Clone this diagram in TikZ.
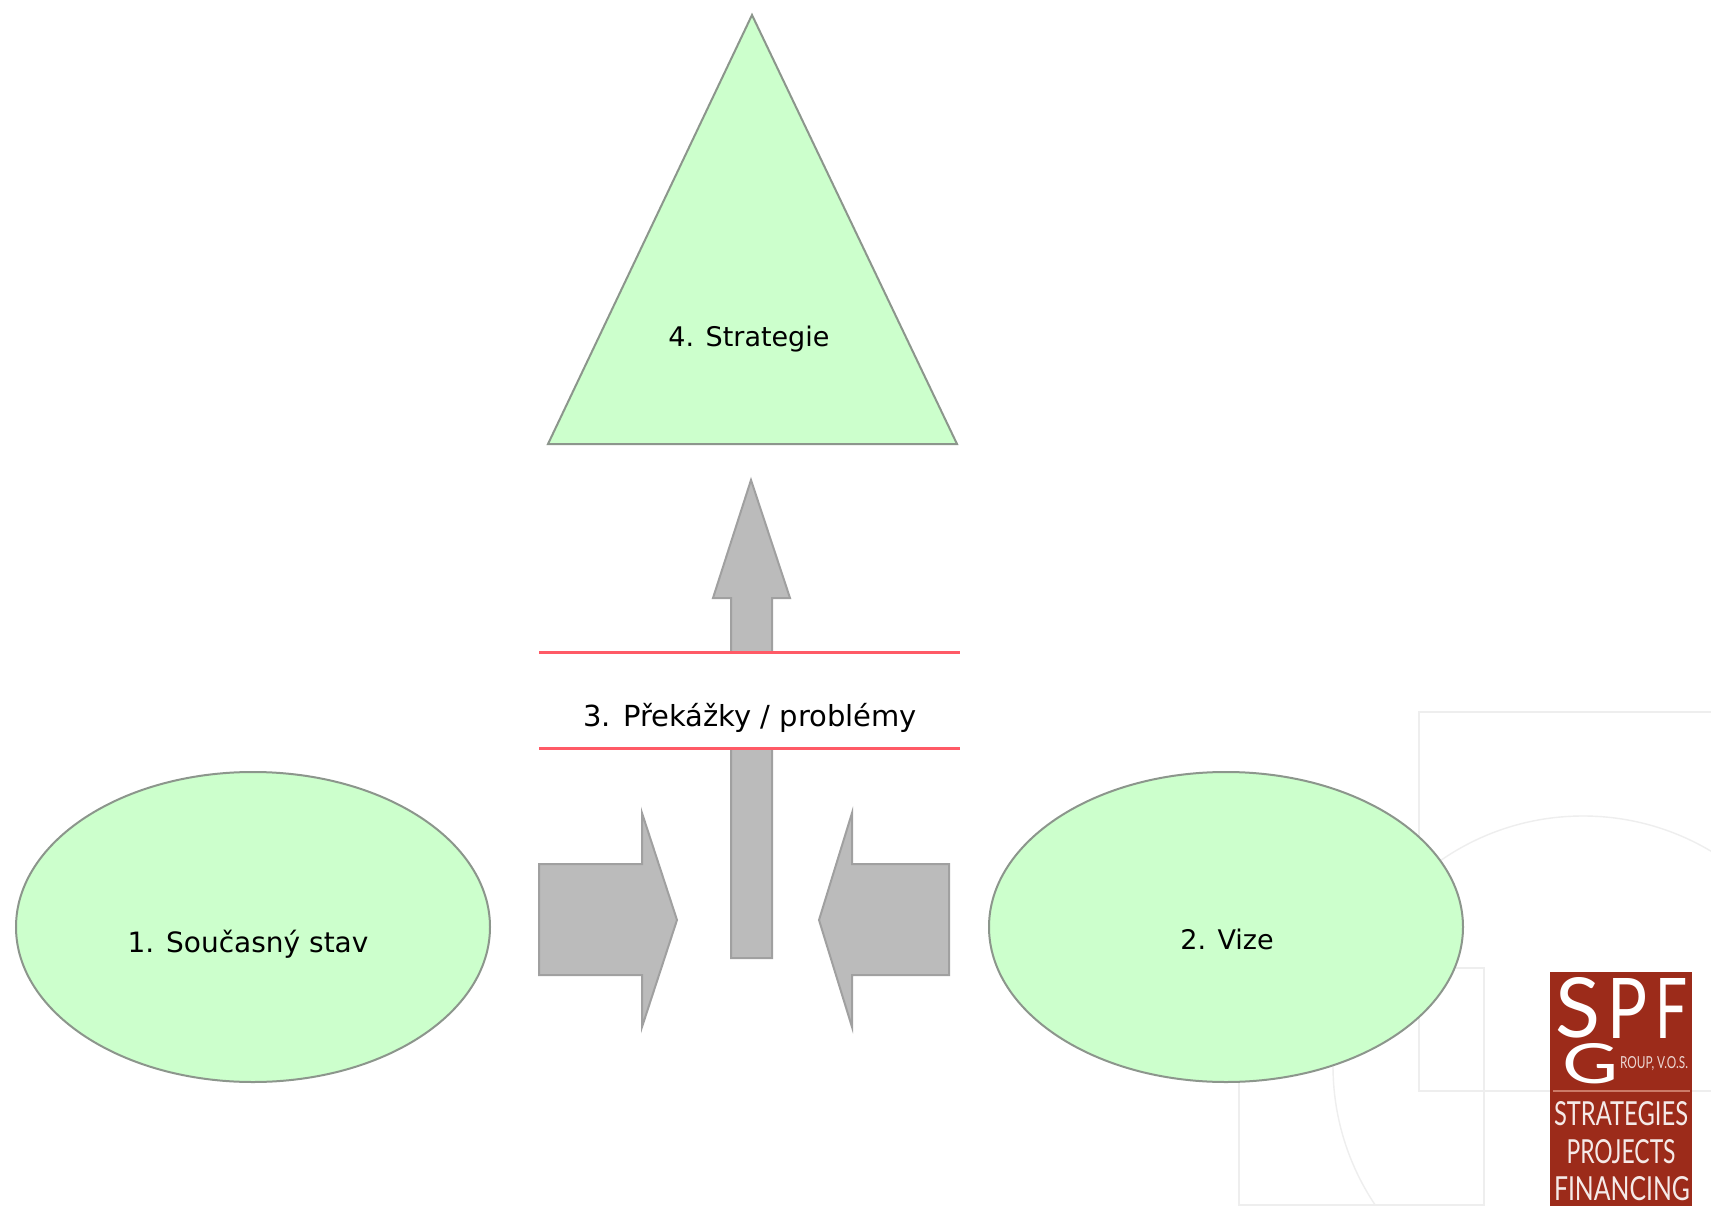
\documentclass[tikz,border=0pt]{standalone}
\usepackage{fontspec}
\usepackage{graphicx}
\setmainfont{DejaVu Sans}
\newfontfamily\logofont{Lato}
\usetikzlibrary{shapes.geometric}
\definecolor{shapegreen}{HTML}{CCFFCC}
\definecolor{shapeedge}{HTML}{8C968C}
\definecolor{arrowfill}{HTML}{BBBBBB}
\definecolor{arrowedge}{HTML}{A0A0A0}
\definecolor{obstacle}{HTML}{FF5A66}
\definecolor{watermark}{HTML}{EEEEEE}
\definecolor{logored}{HTML}{9C2B1A}
\definecolor{logoline}{HTML}{CC7A68}
\tikzset{
  x=1pt,y=-1pt,
  blob/.style={draw=shapeedge,fill=shapegreen,line width=2pt,ellipse,inner sep=0pt,minimum width=474pt,minimum height=310pt},
  peak/.style={draw=shapeedge,fill=shapegreen,line width=2pt,line join=miter},
  fatarrow/.style={draw=arrowedge,fill=arrowfill,line width=2pt,line join=miter},
  barline/.style={draw=obstacle,line width=3.6pt},
  faint/.style={draw=watermark,line width=1.4pt},
  caption/.style={font=\fontsize{27}{30}\selectfont,text=black,inner sep=0pt},
  logotext/.style={font=\logofont,text=white!90!logored,inner sep=0pt,anchor=center},
  logobig/.style={font=\logofont,text=white,inner sep=0pt,anchor=center}
}
\begin{document}
\begin{tikzpicture}
\useasboundingbox (0,0) rectangle (1711,1206);
\begin{scope}
\clip (0,0) rectangle (1711,1206);
\fill[white] (0,0) rectangle (1711,1206);
% watermark
\draw[faint] (1800,712) -- (1419,712) -- (1419,1091) -- (1800,1091);
\draw[faint] (1239,968) rectangle (1484,1205);
\draw[faint] (1583,1066) circle[radius=250];
% logo
\fill[logored] (1550,972) rectangle (1692,1206);
\node[logobig] (lS) at (1578,1008) {\resizebox{45pt}{60pt}{S}};
\node[logobig] (lP) at (1627,1008) {\resizebox{40pt}{60pt}{P}};
\node[logobig] (lF) at (1671,1008) {\resizebox{32pt}{60pt}{F}};
\node[logobig] (lG) at (1590,1064) {\resizebox{56pt}{40pt}{G}};
\node[logotext,text=white!80!logored] (lgroup) at (1654,1064) {\resizebox{68pt}{12pt}{ROUP, V.O.S.}};
\draw[logoline,line width=2pt] (1553,1091) -- (1690,1091);
\node[logotext] (l1) at (1621,1114) {\resizebox{134pt}{24pt}{STRATEGIES}};
\node[logotext] (l2) at (1621,1152) {\resizebox{109pt}{24pt}{PROJECTS}};
\node[logotext] (l3) at (1622,1189) {\resizebox{136pt}{24pt}{FINANCING}};
% shapes
\node[blob] (cur) at (253,927) {};
\node[blob] (vis) at (1226,927) {};
\draw[peak] (752,15) -- (957,444) -- (548,444) -- cycle;
\draw[fatarrow] (751,480) -- (790,598) -- (772,598) -- (772,958) -- (731,958) -- (731,598) -- (713,598) -- cycle;
\fill[white] (535,652) rectangle (965,748);
\draw[fatarrow] (539,864) -- (642,864) -- (642,813) -- (677,920) -- (642,1027) -- (642,975) -- (539,975) -- cycle;
\draw[fatarrow] (949,864) -- (852,864) -- (852,813) -- (819,920) -- (852,1027) -- (852,975) -- (949,975) -- cycle;
\coordinate (b1l) at (539,652.5); \coordinate (b1r) at (960,652.5);
\coordinate (b2l) at (539,748.5); \coordinate (b2r) at (960,748.5);
\draw[barline] (b1l) -- (b1r);
\draw[barline] (b2l) -- (b2r);
\node[caption,font=\fontsize{28}{30}\selectfont] (t1) at (248,944) {1. Současný stav};
\node[caption] (t2) at (1227,939) {2. Vize};
\node[caption,font=\fontsize{29}{30}\selectfont] (t3) at (750,718) {3. Překážky / problémy};
\node[caption] (t4) at (749,339) {4. Strategie};
\end{scope}
\end{tikzpicture}
\end{document}
